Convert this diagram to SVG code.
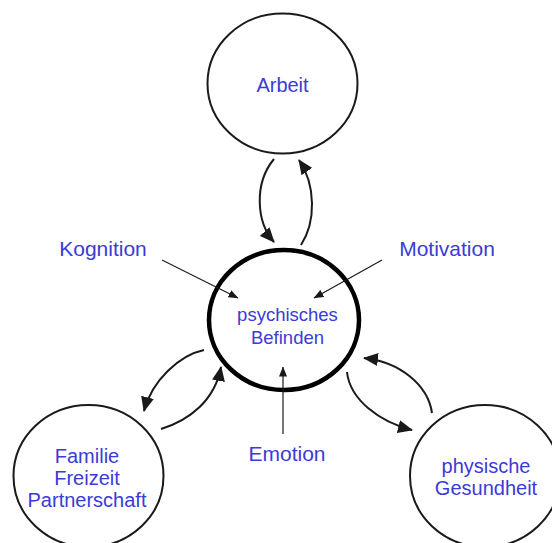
<svg xmlns="http://www.w3.org/2000/svg" width="552" height="543" viewBox="0 0 552 543">
  <style>
    .node { fill: #ffffff; stroke: #1a1a1a; stroke-width: 2; }
    .hub { fill: #ffffff; stroke: #000000; stroke-width: 4.5; }
    .label { font-family: "Liberation Sans", Arial, sans-serif; fill: #3b3bd6; text-anchor: middle; font-size: 20px; }
    .hub-label { font-size: 18.5px; }
    .factor { font-size: 21px; }
    .loop { fill: none; stroke: #1a1a1a; stroke-width: 2; }
    .influence { fill: none; stroke: #1a1a1a; stroke-width: 1.2; }
  </style>
  <defs>
    <marker id="bigHead" markerUnits="userSpaceOnUse" markerWidth="15" markerHeight="13" viewBox="0 0 15 13" refX="14" refY="6.5" orient="auto">
      <path d="M0,0 L15,6.5 L0,13 Z" fill="#1a1a1a"/>
    </marker>
    <marker id="smallHead" markerUnits="userSpaceOnUse" markerWidth="10" markerHeight="8" viewBox="0 0 10 8" refX="9.5" refY="4" orient="auto">
      <path d="M0,0 L10,4 L0,8 Z" fill="#1a1a1a"/>
    </marker>
  </defs>

  <rect width="552" height="543" fill="#ffffff"/>

  <g id="arbeit">
    <ellipse class="node" cx="282.5" cy="83.5" rx="75" ry="70"/>
    <text class="label" x="282.5" y="92">Arbeit</text>
  </g>

  <g id="befinden">
    <ellipse class="hub" cx="284" cy="320" rx="75" ry="70"/>
    <text class="label hub-label" x="287.5" y="321">psychisches</text>
    <text class="label hub-label" x="287.5" y="344">Befinden</text>
  </g>

  <g id="familie">
    <ellipse class="node" cx="88.5" cy="476" rx="75" ry="71"/>
    <text class="label" x="87" y="463">Familie</text>
    <text class="label" x="87" y="485">Freizeit</text>
    <text class="label" x="87" y="507">Partnerschaft</text>
  </g>

  <g id="gesundheit">
    <ellipse class="node" cx="485" cy="476" rx="75" ry="71"/>
    <text class="label" x="486" y="473">physische</text>
    <text class="label" x="486" y="495">Gesundheit</text>
  </g>

  <g id="kognition">
    <text class="label factor" x="103" y="256">Kognition</text>
  </g>
  <g id="motivation">
    <text class="label factor" x="447" y="256">Motivation</text>
  </g>
  <g id="emotion">
    <text class="label factor" x="287" y="461">Emotion</text>
  </g>

  <g id="connectors">
    <!-- two-way loops between the hub and the outer circles -->
    <path class="loop" d="M274,159 C254,183 256,222 274,242" marker-end="url(#bigHead)"/>
    <path class="loop" d="M301,245 C316,222 316,185 299,160" marker-end="url(#bigHead)"/>
    <path class="loop" d="M204,350 C180,355 152,380 144,411" marker-end="url(#bigHead)"/>
    <path class="loop" d="M161,429 C190,420 215,400 221,367" marker-end="url(#bigHead)"/>
    <path class="loop" d="M347,372 C350,400 380,422 412,430" marker-end="url(#bigHead)"/>
    <path class="loop" d="M432,413 C428,385 400,362 364,358" marker-end="url(#bigHead)"/>
    <!-- single influences pointing into the hub -->
    <line class="influence" x1="162" y1="260" x2="238" y2="298" marker-end="url(#smallHead)"/>
    <line class="influence" x1="382" y1="260" x2="314" y2="298" marker-end="url(#smallHead)"/>
    <line class="influence" x1="283" y1="434" x2="283" y2="367" marker-end="url(#smallHead)"/>
  </g>
</svg>
